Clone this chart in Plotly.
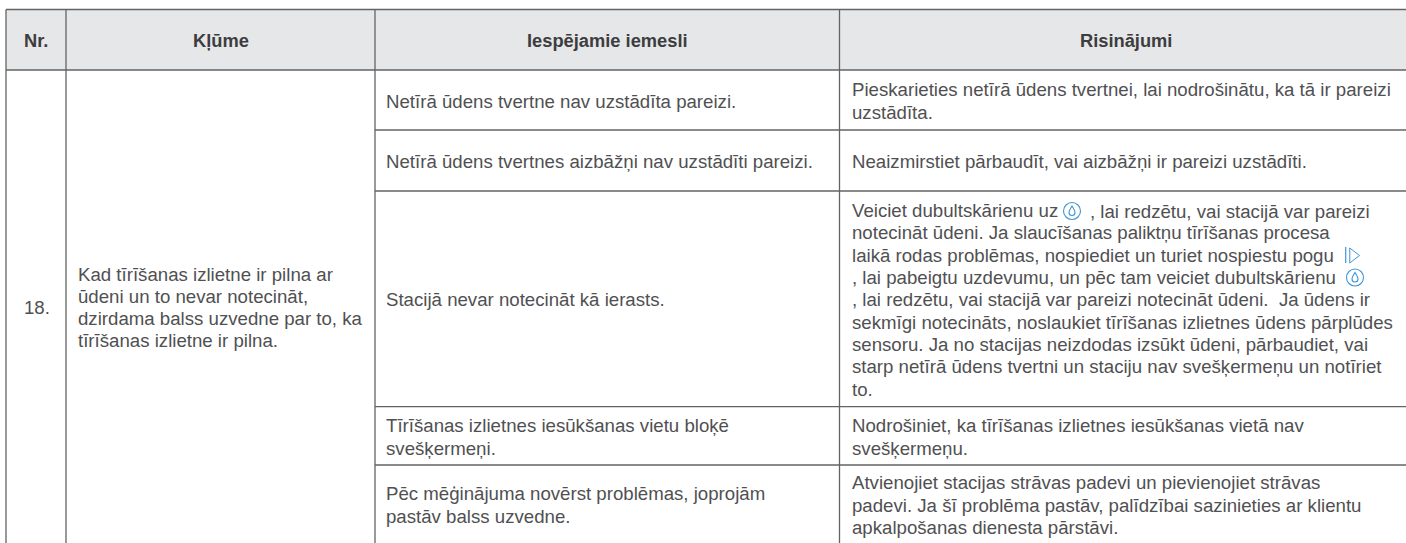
import plotly.graph_objects as go

headers = ["Nr.", "Kļūme", "Iespējamie iemesli", "Risinājumi"]
number = ["18."]
fault = ["Kad tīrīšanas izlietne ir pilna ar",
         "ūdeni un to nevar notecināt,",
         "dzirdama balss uzvedne par to, ka",
         "tīrīšanas izlietne ir pilna."]
causes = [
    ["Netīrā ūdens tvertne nav uzstādīta pareizi."],
    ["Netīrā ūdens tvertnes aizbāžņi nav uzstādīti pareizi."],
    ["Stacijā nevar notecināt kā ierasts."],
    ["Tīrīšanas izlietnes iesūkšanas vietu bloķē", "svešķermeņi."],
    ["Pēc mēģinājuma novērst problēmas, joprojām", "pastāv balss uzvedne."],
]
solutions = [
    ["Pieskarieties netīrā ūdens tvertnei, lai nodrošinātu, ka tā ir pareizi", "uzstādīta."],
    ["Neaizmirstiet pārbaudīt, vai aizbāžņi ir pareizi uzstādīti."],
    ["Veiciet dubultskārienu uz",
     "notecināt ūdeni. Ja slaucīšanas paliktņu tīrīšanas procesa",
     "laikā rodas problēmas, nospiediet un turiet nospiestu pogu",
     ", lai pabeigtu uzdevumu, un pēc tam veiciet dubultskārienu",
     ", lai redzētu, vai stacijā var pareizi notecināt ūdeni.  Ja ūdens ir",
     "sekmīgi notecināts, noslaukiet tīrīšanas izlietnes ūdens pārplūdes",
     "sensoru. Ja no stacijas neizdodas izsūkt ūdeni, pārbaudiet, vai",
     "starp netīrā ūdens tvertni un staciju nav svešķermeņu un notīriet",
     "to."],
    ["Nodrošiniet, ka tīrīšanas izlietnes iesūkšanas vietā nav", "svešķermeņu."],
    ["Atvienojiet stacijas strāvas padevi un pievienojiet strāvas",
     "padevi. Ja šī problēma pastāv, palīdzībai sazinieties ar klientu",
     "apkalpošanas dienesta pārstāvi."],
]
first_line_tail = ", lai redzētu, vai stacijā var pareizi"

# layout constants (pixels)
W, H = 1406, 543
COLS = [6, 66, 375, 839.5]
RIGHT = 1412
TOP, HEAD = 9.5, 70
ROWS = [70, 130, 191, 406.7, 465, 543]
LH = 22.3
FONT = "Liberation Sans"
SIZE = 18.65
HEAD_SIZE = 18.3
TXT = "#505052"
LINE = "#626365"
BLUE = "#3f95d6"
DY = 1

fig = go.Figure()
shapes = [dict(type="rect", x0=COLS[0], x1=RIGHT, y0=TOP, y1=HEAD,
               fillcolor="#e6e7e8", line_width=0, layer="below")]
def rule(x0, y0, x1, y1, w=1.3):
    shapes.append(dict(type="line", x0=x0, x1=x1, y0=y0, y1=y1, line=dict(color=LINE, width=w)))
for x in COLS:
    rule(x, TOP, x, H)
rule(COLS[0], TOP, RIGHT, TOP)
rule(COLS[0], HEAD, RIGHT, HEAD)
for y in ROWS[1:-1]:
    rule(COLS[2], y, RIGHT, y)

ann = []
def text(x, y, s, bold=False, anchor="left"):
    ann.append(dict(x=x, y=y + DY, text=f"<b>{s}</b>" if bold else s, showarrow=False,
                    xanchor=anchor, yanchor="middle", xref="x", yref="y",
                    font=dict(family=FONT, size=HEAD_SIZE if bold else SIZE,
                              color="#3d3d3f" if bold else TXT)))
def block(x, y0, y1, lines):
    c = (y0 + y1) / 2
    n = len(lines)
    for i, s in enumerate(lines):
        text(x, c + (i - (n - 1) / 2) * LH, s)

edges = COLS + [RIGHT]
for i, h in enumerate(headers):
    text((edges[i] + edges[i + 1]) / 2, (TOP + HEAD) / 2, h, bold=True, anchor="center")
block(22, HEAD, H, number)
block(76, HEAD, H, fault)
for i in range(5):
    block(384, ROWS[i], ROWS[i + 1], causes[i])
    block(849.7, ROWS[i], ROWS[i + 1], solutions[i])
text(1087.5, 210, first_line_tail)

# touch icons
icon_x = [1072, 1355]
icon_y = [211, 277.5]
fig.add_trace(go.Scatter(x=icon_x, y=icon_y, mode="markers", hoverinfo="skip", showlegend=False,
                         marker=dict(symbol="circle-open", size=17, color=BLUE, line=dict(width=1.1, color=BLUE))))
for cx, cy in zip(icon_x, icon_y):
    shapes.append(dict(type="path", line=dict(color=BLUE, width=1.1),
                       path=f"M {cx} {cy-5} C {cx+1} {cy-3} {cx+3} {cy-1} {cx+3} {cy+1.5} "
                            f"C {cx+3} {cy+5.5} {cx-3} {cy+5.5} {cx-3} {cy+1.5} "
                            f"C {cx-3} {cy-1} {cx-1} {cy-3} {cx} {cy-5} Z"))
fig.add_trace(go.Scatter(x=[1353], y=[255.5], mode="markers", hoverinfo="skip", showlegend=False,
                         marker=dict(symbol="triangle-right-open", size=13, color=BLUE, line=dict(width=1, color=BLUE))))
shapes.append(dict(type="line", x0=1345.7, x1=1345.7, y0=247, y1=263, line=dict(color=BLUE, width=1.2)))

fig.update_layout(width=W, height=H, margin=dict(l=0, r=0, t=0, b=0), autosize=False,
                  paper_bgcolor="white", plot_bgcolor="white", shapes=shapes, annotations=ann,
                  xaxis=dict(range=[0, W], visible=False, fixedrange=True),
                  yaxis=dict(range=[H, 0], visible=False, fixedrange=True))
fig.write_html("out.html", config={"displayModeBar": False},
               post_script="document.body.style.margin='0';document.body.style.overflow='hidden';")
